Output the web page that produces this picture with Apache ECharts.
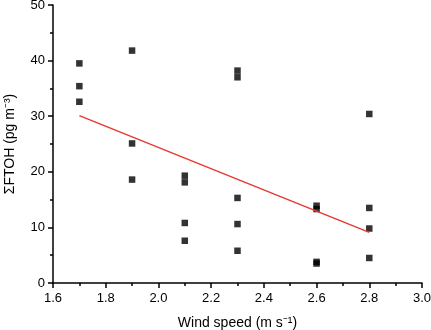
<!DOCTYPE html>
<html>
<head>
<meta charset="utf-8">
<script src="https://cdn.jsdelivr.net/npm/echarts@6/dist/echarts.min.js"></script>
<style>
  html, body { margin: 0; padding: 0; background: #fff; }
  #chart { width: 431px; height: 330px; }
</style>
</head>
<body>
<div id="chart"></div>
<script>
// wind speed (m s-1) of each sample
var windSpeed = [1.7, 1.7, 1.7, 1.9, 1.9, 1.9, 2.1, 2.1, 2.1, 2.1,
                 2.3, 2.3, 2.3, 2.3, 2.3, 2.6, 2.6, 2.6, 2.6, 2.8, 2.8, 2.8, 2.8];
// sum FTOH (pg m-3)
var ftoh = [39.5, 35.4, 32.6, 41.8, 25.1, 18.6, 19.3, 18.1, 10.8, 7.6,
            38.2, 37.0, 15.3, 10.6, 5.8, 13.9, 13.3, 3.8, 3.5, 30.4, 13.5, 9.8, 4.5];
// linear fit end points
var fitX = [1.7, 2.8];
var fitY = [30.1, 9.1];

var points = windSpeed.map(function (w, i) { return [w, ftoh[i]]; });
var fitLine = fitX.map(function (x, i) { return [x, fitY[i]]; });

var font = 'Liberation Sans, Arial, sans-serif';
var axisCommon = {
  axisLine: { lineStyle: { color: '#000', width: 1.5 } },
  axisTick: { length: 5, lineStyle: { color: '#000', width: 1.5 } },
  minorTick: { show: true, splitNumber: 2, length: 3, lineStyle: { color: '#000', width: 1.5 } },
  splitLine: { show: false },
  axisLabel: { color: '#000', fontSize: 13, fontFamily: font },
  nameTextStyle: { color: '#000', fontSize: 14, fontFamily: font }
};

var chart = echarts.init(document.getElementById('chart'));
chart.setOption({
  animation: false,
  grid: { left: 53, right: 9, top: 5, bottom: 47, containLabel: false, outerBoundsMode: 'none' },
  xAxis: Object.assign({}, axisCommon, {
    type: 'value',
    min: 1.6,
    max: 3.0,
    interval: 0.2,
    name: 'Wind speed (m s⁻¹)',
    nameLocation: 'middle',
    nameGap: 33,
    axisLabel: Object.assign({}, axisCommon.axisLabel, {
      margin: 9,
      formatter: function (v) { return v.toFixed(1); }
    })
  }),
  yAxis: Object.assign({}, axisCommon, {
    type: 'value',
    min: 0,
    max: 50,
    interval: 10,
    name: 'ΣFTOH (pg m⁻³)',
    nameLocation: 'middle',
    nameGap: 36
  }),
  series: [
    {
      type: 'scatter',
      data: points,
      symbol: 'rect',
      symbolSize: 6.5,
      itemStyle: { color: '#000' }
    },
    {
      type: 'line',
      data: fitLine,
      symbol: 'none',
      lineStyle: { color: '#e8392f', width: 1.5 }
    }
  ]
});
</script>
</body>
</html>
